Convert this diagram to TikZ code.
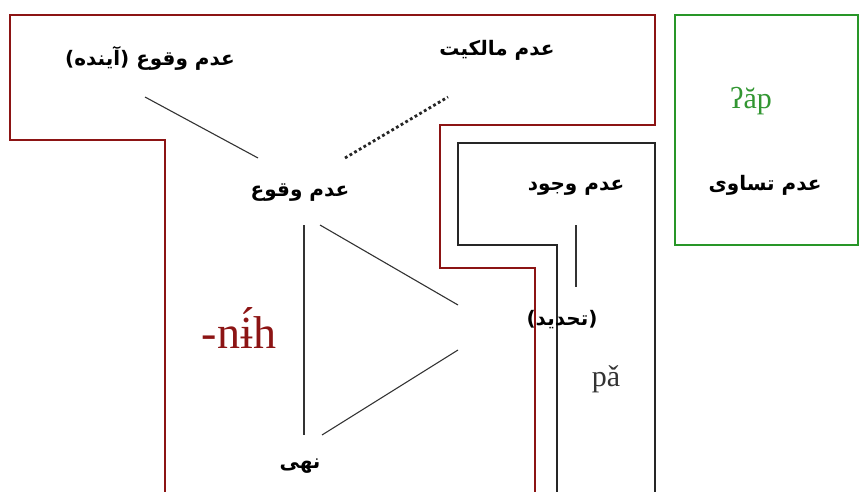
\documentclass[tikz,border=0pt]{standalone}
\usepackage{fontspec}
\setmainfont{Liberation Serif}
\newfontfamily\arabicfont[Script=Arabic]{DejaVu Sans}
\TeXXeTstate=1
\definecolor{darkred}{RGB}{140,20,20}
\definecolor{boxgreen}{RGB}{40,150,40}
\definecolor{txtgreen}{RGB}{50,150,50}
\tikzset{
  x=1pt, y=-1pt,
  fa/.style={font=\arabicfont\bfseries\fontsize{20}{22}\selectfont, inner sep=1pt},
  lat/.style={font=\fontsize{30}{32}\selectfont, inner sep=1pt},
  link/.style={draw=black!80, line width=1.1pt},
  redwall/.style={draw=darkred, line width=2.6pt},
  blackwall/.style={draw=black!85, line width=2.6pt},
  greenwall/.style={draw=boxgreen, line width=1.8pt},
}
\begin{document}
\begin{tikzpicture}
\useasboundingbox (0,0) rectangle (860,492);
% walls
\draw[redwall] (165,492) -- (165,140) -- (10,140) -- (10,15) -- (655,15) -- (655,125) -- (440,125) -- (440,268) -- (535,268) -- (535,492);
\draw[blackwall] (557,492) -- (557,245) -- (458,245) -- (458,143) -- (655,143) -- (655,492);
\draw[greenwall] (675,15) rectangle (858,245);
% texts
\node[fa] (fut) at (150,58) {\beginR عدم وقوع (آینده)\endR};
\node[fa] (own) at (497,50) {\beginR عدم مالکیت\endR};
\node[fa] (occ) at (300,193) {\beginR عدم وقوع\endR};
\node[fa] (ext) at (576,188) {\beginR عدم وجود\endR};
\node[fa] (eq) at (765,185) {\beginR عدم تساوی\endR};
\node[fa] (lim) at (562,320) {\beginR (تحدید)\endR};
\node[fa] (neg) at (300,466) {\beginR نهی\endR};
\node[lat, text=txtgreen] (ap) at (751,101) {ʔăp};
\node[lat, text=black!80] (pa) at (606,379) {pǎ};
\node[font=\fontsize{46}{48}\selectfont, text=darkred, inner sep=1pt] (nih) at (239,328) {-nɨ́h};
% connectors
\coordinate (c1) at (145,97);
\coordinate (c2) at (258,158);
\coordinate (d1) at (345,158);
\coordinate (d2) at (448,97);
\coordinate (v1) at (304,225);
\coordinate (v2) at (304,435);
\coordinate (t1) at (320,225);
\coordinate (t2) at (458,305);
\coordinate (t3) at (458,350);
\coordinate (t4) at (322,435);
\coordinate (e1) at (576,225);
\coordinate (e2) at (576,287);
\draw[link] (c1) -- (c2);
\draw[draw=black!85, line width=2.8pt, dash pattern=on 2.8pt off 2.6pt] (d1) -- (d2);
\draw[link] (v1) -- (v2);
\draw[link] (t1) -- (t2);
\draw[link] (t3) -- (t4);
\draw[link] (e1) -- (e2);
\end{tikzpicture}
\end{document}
